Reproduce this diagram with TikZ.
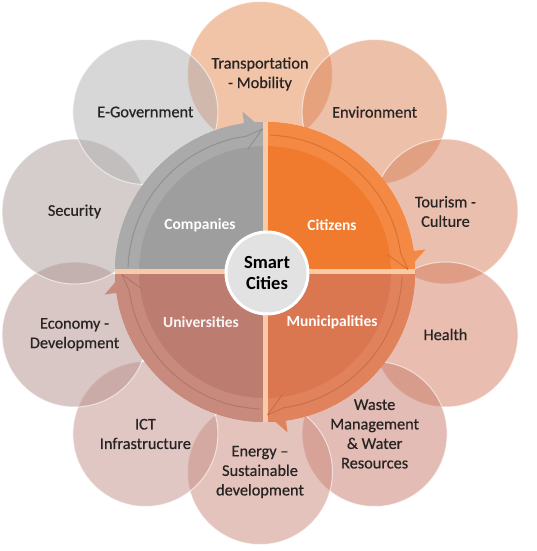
\documentclass[tikz,border=0pt]{standalone}
\usepackage{fontspec}
\setmainfont{Carlito}
\newfontfamily\ringfont{Carlito}[FakeBold=0.6,Ligatures=TeX]
\usetikzlibrary{shadows}
\definecolor{cTr}{RGB}{229,137,81}
\definecolor{cEn}{RGB}{221,131,85}
\definecolor{cTo}{RGB}{217,129,93}
\definecolor{cHe}{RGB}{213,125,97}
\definecolor{cWa}{RGB}{201,125,109}
\definecolor{cEg}{RGB}{205,137,125}
\definecolor{cIc}{RGB}{197,145,137}
\definecolor{cEc}{RGB}{181,145,141}
\definecolor{cSe}{RGB}{173,157,155}
\definecolor{cGo}{RGB}{177,177,177}
\definecolor{txt}{RGB}{40,36,36}
\definecolor{qCo}{RGB}{158,158,158}
\definecolor{qCoR}{RGB}{170,170,170}
\definecolor{qCoD}{RGB}{125,125,125}
\definecolor{qCi}{RGB}{240,122,46}
\definecolor{qCiR}{RGB}{243,137,67}
\definecolor{qCiD}{RGB}{200,95,35}
\definecolor{qMu}{RGB}{218,118,80}
\definecolor{qMuR}{RGB}{224,130,92}
\definecolor{qMuD}{RGB}{185,95,62}
\definecolor{qUn}{RGB}{188,124,112}
\definecolor{qUnR}{RGB}{199,138,125}
\definecolor{qUnD}{RGB}{160,105,95}
\definecolor{crossc}{RGB}{248,203,166}
\definecolor{cc}{RGB}{226,226,226}
\begin{document}
\begin{tikzpicture}[x=1pt,y=1pt,
  ringcircle/.style={circle, minimum size=145, inner sep=0, fill opacity=0.5, draw=white, draw opacity=0.6, line width=1},
  ringlabel/.style={font=\ringfont\fontsize{16.3}{19.5}\selectfont, text=txt, align=center, inner sep=0},
  qlabel/.style={font=\fontsize{15.5}{19}\selectfont\bfseries, text=white, inner sep=0},
  darkline/.style={line width=1, draw opacity=0.55},
  crossline/.style={draw=crossc, line width=5}]
\useasboundingbox (0,0) rectangle (536,551);
\fill[white] (0,0) rectangle (536,551);
% outer ring of circles
\node[ringcircle, fill=cTr] (c1) at ({260+195*cos(90)},{278+199*sin(90)}) {};
\node[ringcircle, fill=cEn] (c2) at ({260+195*cos(54)},{278+199*sin(54)}) {};
\node[ringcircle, fill=cTo] (c3) at ({260+195*cos(18)},{278+199*sin(18)}) {};
\node[ringcircle, fill=cHe] (c4) at ({260+195*cos(-18)},{278+199*sin(-18)}) {};
\node[ringcircle, fill=cWa] (c5) at ({260+195*cos(-54)},{278+199*sin(-54)}) {};
\node[ringcircle, fill=cEg] (c6) at ({260+195*cos(-90)},{278+199*sin(-90)}) {};
\node[ringcircle, fill=cIc] (c7) at ({260+195*cos(-126)},{278+199*sin(-126)}) {};
\node[ringcircle, fill=cEc] (c8) at ({260+195*cos(-162)},{278+199*sin(-162)}) {};
\node[ringcircle, fill=cSe] (c9) at ({260+195*cos(162)},{278+199*sin(162)}) {};
\node[ringcircle, fill=cGo] (c10) at ({260+195*cos(126)},{278+199*sin(126)}) {};
% labels
\node[ringlabel] (t1) at (c1) {Transportation\\- Mobility};
\node[ringlabel] (t2) at (c2) {Environment};
\node[ringlabel] (t3) at (c3) {Tourism -\\Culture};
\node[ringlabel] (t4) at (c4) {Health};
\node[ringlabel] (t5) at (c5) {Waste\\Management\\\& Water\\Resources};
\node[ringlabel] (t6) at (c6) {Energy –\\Sustainable\\development};
\node[ringlabel] (t7) at (c7) {ICT\\Infrastructure};
\node[ringlabel] (t8) at (c8) {Economy -\\Development};
\node[ringlabel] (t9) at (c9) {Security};
\node[ringlabel] (t10) at (c10) {E-Government};
% quadrants
\begin{scope}[shift={(265,279)}]
  % Companies
  \fill[qCo] (0,0) -- (180:150) arc[start angle=180,end angle=90,radius=150] -- cycle;
  \fill[qCoR] (180:150) arc[start angle=180,end angle=90,radius=150] -- (90:126) arc[start angle=90,end angle=180,radius=126] -- cycle;
  % Citizens
  \fill[qCi] (0,0) -- (90:150) arc[start angle=90,end angle=0,radius=150] -- cycle;
  \fill[qCiR] (90:150) arc[start angle=90,end angle=0,radius=150] -- (0:126) arc[start angle=0,end angle=90,radius=126] -- cycle;
  % Municipalities
  \fill[qMu] (0,0) -- (0:150) arc[start angle=0,end angle=-90,radius=150] -- cycle;
  \fill[qMuR] (0:150) arc[start angle=0,end angle=-90,radius=150] -- (-90:126) arc[start angle=-90,end angle=0,radius=126] -- cycle;
  % Universities
  \fill[qUn] (0,0) -- (-90:150) arc[start angle=-90,end angle=-180,radius=150] -- cycle;
  \fill[qUnR] (-90:150) arc[start angle=-90,end angle=-180,radius=150] -- (-180:126) arc[start angle=-180,end angle=-90,radius=126] -- cycle;
  % dividing cross
  \draw[crossline] (-150,0) -- (150,0);
  \draw[crossline] (0,-150) -- (0,150);
  % arrowheads
  \fill[qCoR] (98:162) -- (91:143) -- (98:124) -- cycle;
  \fill[qCiR] (8:162) -- (1:143) -- (8:124) -- cycle;
  \fill[qMuR] (-82:162) -- (-89:143) -- (-82:124) -- cycle;
  \fill[qUnR] (188:162) -- (181:143) -- (188:124) -- cycle;
  % inner dark arcs with chevrons
  \draw[darkline, qCoD] (178:137) arc[start angle=178,end angle=98,radius=137] -- (91:143);
  \draw[darkline, qCoD] (98:124) -- (91:143);
  \draw[darkline, qCiD] (88:137) arc[start angle=88,end angle=8,radius=137] -- (1:143);
  \draw[darkline, qCiD] (8:124) -- (1:143);
  \draw[darkline, qMuD] (-2:137) arc[start angle=-2,end angle=-82,radius=137] -- (-89:143);
  \draw[darkline, qMuD] (-82:124) -- (-89:143);
  \draw[darkline, qUnD] (-92:137) arc[start angle=-92,end angle=-172,radius=137] -- (-179:143);
  \draw[darkline, qUnD] (-172:124) -- (-179:143);
\end{scope}
% quadrant labels
\node[qlabel] (q1) at (200,326) {Companies};
\node[qlabel] (q2) at (332,326) {Citizens};
\node[qlabel, text=white!92!qUn] (q3) at (201,229) {Universities};
\node[qlabel] (q4) at (332,229) {Municipalities};
% centre
\node[circle, minimum size=82, inner sep=0, fill=cc, draw=white, line width=3,
      drop shadow={opacity=0.35, shadow xshift=1.5pt, shadow yshift=-1.5pt},
      font=\fontsize{18.5}{21}\selectfont\bfseries, text=black, align=center] (sc) at (267,278) {Smart\\Cities};
\end{tikzpicture}
\end{document}
